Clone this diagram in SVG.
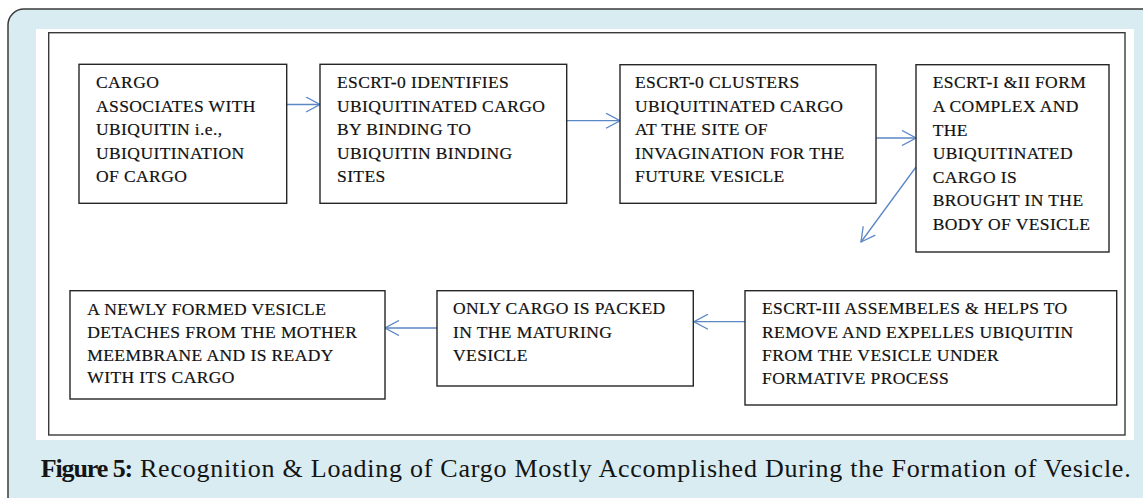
<svg xmlns="http://www.w3.org/2000/svg" width="1143" height="498" viewBox="0 0 1143 498">
  <style>
    .frame { fill: #d8ecf2; stroke: #3a3a3a; stroke-width: 1.5; }
    .panel { fill: #ffffff; }
    .inner { fill: none; stroke: #3a3a3a; stroke-width: 1.4; }
    .box { fill: #ffffff; stroke: #262626; stroke-width: 1.4; }
    .lbl { font-family: "Liberation Serif", "Times New Roman", serif; font-size: 17.5px; letter-spacing: 0.4px; fill: #111111; stroke: #111111; stroke-width: 0.2; }
    .conn { fill: none; stroke: #5b87c5; stroke-width: 1.3; }
    .cap { font-family: "Liberation Serif", "Times New Roman", serif; font-size: 26px; fill: #141414; }
  </style>
  <defs>
    <marker id="chev" markerUnits="userSpaceOnUse" viewBox="0 0 16 16" refX="15" refY="8" markerWidth="16" markerHeight="16" orient="auto">
      <path d="M1,0.5 L15,8 L1,15.5" fill="none" stroke="#5b87c5" stroke-width="1.3"/>
    </marker>
  </defs>

  <!-- outer card and white figure panel -->
  <rect class="frame" x="8" y="9" width="1160" height="510" rx="16" ry="16"/>
  <rect class="panel" x="36" y="29" width="1098" height="411"/>
  <rect class="inner" x="48.7" y="32.7" width="1076.3" height="402.3"/>

  <g id="connectors">
    <line class="conn" x1="287" y1="104.5" x2="320" y2="104.5" marker-end="url(#chev)"/>
    <line class="conn" x1="567" y1="120.7" x2="620" y2="120.7" marker-end="url(#chev)"/>
    <line class="conn" x1="876" y1="138" x2="916" y2="138" marker-end="url(#chev)"/>
    <line class="conn" x1="916" y1="167" x2="861" y2="242" marker-end="url(#chev)"/>
    <line class="conn" x1="745" y1="321.7" x2="694" y2="321.7" marker-end="url(#chev)"/>
    <line class="conn" x1="437" y1="328" x2="385" y2="328" marker-end="url(#chev)"/>
  </g>

  <g id="n1">
    <rect class="box" x="79" y="64.3" width="207.7" height="139"/>
    <text class="lbl">
      <tspan x="96" y="88.3">CARGO</tspan>
      <tspan x="96" y="111.7">ASSOCIATES WITH</tspan>
      <tspan x="96" y="135.1">UBIQUITIN i.e.,</tspan>
      <tspan x="96" y="158.5">UBIQUITINATION</tspan>
      <tspan x="96" y="181.9">OF CARGO</tspan>
    </text>
  </g>

  <g id="n2">
    <rect class="box" x="320" y="64.3" width="246.7" height="139"/>
    <text class="lbl">
      <tspan x="337" y="88.3">ESCRT-0 IDENTIFIES</tspan>
      <tspan x="337" y="111.7">UBIQUITINATED CARGO</tspan>
      <tspan x="337" y="135.1">BY BINDING TO</tspan>
      <tspan x="337" y="158.5">UBIQUITIN BINDING</tspan>
      <tspan x="337" y="181.9">SITES</tspan>
    </text>
  </g>

  <g id="n3">
    <rect class="box" x="620" y="64.7" width="256" height="138.6"/>
    <text class="lbl">
      <tspan x="635" y="88.3">ESCRT-0 CLUSTERS</tspan>
      <tspan x="635" y="111.7">UBIQUITINATED CARGO</tspan>
      <tspan x="635" y="135.1">AT THE SITE OF</tspan>
      <tspan x="635" y="158.5">INVAGINATION FOR THE</tspan>
      <tspan x="635" y="181.9">FUTURE VESICLE</tspan>
    </text>
  </g>

  <g id="n4">
    <rect class="box" x="916" y="64.7" width="193" height="187.3"/>
    <text class="lbl">
      <tspan x="932.7" y="88.3">ESCRT-I &amp;II FORM</tspan>
      <tspan x="932.7" y="111.9">A COMPLEX AND</tspan>
      <tspan x="932.7" y="135.5">THE</tspan>
      <tspan x="932.7" y="159.1">UBIQUITINATED</tspan>
      <tspan x="932.7" y="182.7">CARGO IS</tspan>
      <tspan x="932.7" y="206.3">BROUGHT IN THE</tspan>
      <tspan x="932.7" y="229.9">BODY OF VESICLE</tspan>
    </text>
  </g>

  <g id="n5">
    <rect class="box" x="745" y="290.7" width="371.7" height="114.3"/>
    <text class="lbl">
      <tspan x="762" y="314.3">ESCRT-III ASSEMBELES &amp; HELPS TO</tspan>
      <tspan x="762" y="337.5">REMOVE AND EXPELLES UBIQUITIN</tspan>
      <tspan x="762" y="360.7">FROM THE VESICLE UNDER</tspan>
      <tspan x="762" y="383.9">FORMATIVE PROCESS</tspan>
    </text>
  </g>

  <g id="n6">
    <rect class="box" x="437" y="290.7" width="256.3" height="95.3"/>
    <text class="lbl">
      <tspan x="453" y="314.3">ONLY CARGO IS PACKED</tspan>
      <tspan x="453" y="337.5">IN THE MATURING</tspan>
      <tspan x="453" y="360.7">VESICLE</tspan>
    </text>
  </g>

  <g id="n7">
    <rect class="box" x="70" y="290.7" width="315" height="108.3"/>
    <text class="lbl">
      <tspan x="87.3" y="315">A NEWLY FORMED VESICLE</tspan>
      <tspan x="87.3" y="337.8">DETACHES FROM THE MOTHER</tspan>
      <tspan x="87.3" y="360.6">MEEMBRANE AND IS READY</tspan>
      <tspan x="87.3" y="383.4">WITH ITS CARGO</tspan>
    </text>
  </g>

  <!-- figure caption -->
  <text class="cap" y="477"><tspan x="40.7" font-weight="bold" letter-spacing="-1.1">Figure 5:</tspan><tspan x="140" letter-spacing="0.75">Recognition &amp; Loading of Cargo Mostly Accomplished During the Formation of Vesicle.</tspan></text>
</svg>
